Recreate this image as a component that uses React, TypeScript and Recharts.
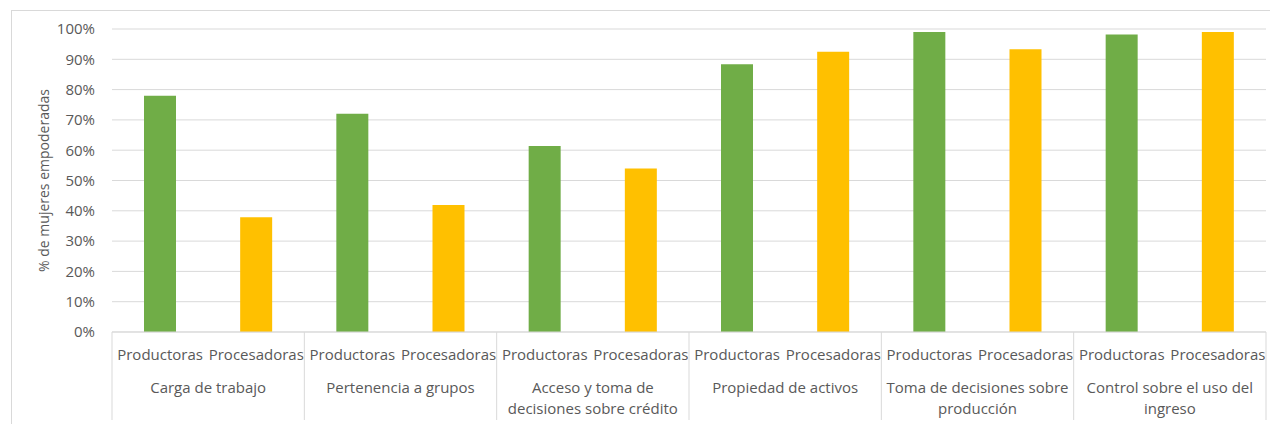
import React from "react";
import { Bar, BarChart, CartesianGrid, Cell, XAxis, YAxis } from "recharts";

const groups = [
	["Carga de trabajo"],
	["Pertenencia a grupos"],
	["Acceso y toma de", "decisiones sobre crédito"],
	["Propiedad de activos"],
	["Toma de decisiones sobre", "producción"],
	["Control sobre el uso del", "ingreso"],
];
const subLabels = ["Productoras", "Procesadoras"];
const productoras = [0.78, 0.72, 0.614, 0.884, 0.99, 0.982];
const procesadoras = [0.379, 0.419, 0.54, 0.925, 0.933, 0.99];
const yTicks = [0, 0.1, 0.2, 0.3, 0.4, 0.5, 0.6, 0.7, 0.8, 0.9, 1];
const colors = ["#70AD47", "#FFC000"];

const data = groups.flatMap((g, i) => [
	{ sub: subLabels[0], group: g, value: productoras[i], color: colors[0] },
	{ sub: subLabels[1], group: g, value: procesadoras[i], color: colors[1] },
]);

const FONT = "'Open Sans', sans-serif";
const TEXT = "#595959";
const LINE = "#d9d9d9";

const XTick = (props: any) => {
	const { x, y, payload, index } = props;
	const half = payload?.offset ?? (1266 - 112) / 24;
	const idx = index ?? payload?.index ?? 0;
	const item = data[idx];
	const isFirst = idx % 2 === 0;
	const isLast = idx === data.length - 1;
	return (
		<g>
			<text x={x} y={y + 28} textAnchor="middle" fill={TEXT} fontFamily={FONT} fontSize={15}>
				{payload.value}
			</text>
			{isFirst && (
				<>
					<line x1={x - half} x2={x - half} y1={y} y2={y + 88} stroke={LINE} />
					<text x={x + half} y={y + 61} textAnchor="middle" fill={TEXT} fontFamily={FONT} fontSize={15}>
						{item.group.map((ln: string, k: number) => (
							<tspan key={k} x={x + half} dy={k === 0 ? 0 : 21}>
								{ln}
							</tspan>
						))}
					</text>
				</>
			)}
			{isLast && <line x1={x + half} x2={x + half} y1={y} y2={y + 88} stroke={LINE} />}
		</g>
	);
};

const YLabel = (props: any) => {
	const vb = props.viewBox || { y: 29, height: 303 };
	const cy = vb.y + vb.height / 2;
	return (
		<text
			x={43}
			y={cy}
			transform={`rotate(-90, 43, ${cy})`}
			textAnchor="middle"
			dominantBaseline="central"
			fill={TEXT}
			fontFamily={FONT}
			fontSize={14}
		>
			% de mujeres empoderadas
		</text>
	);
};

const App: React.FC = () => {
	return (
		<div style={{ position: "absolute", left: 0, top: 0, width: 1270, height: 424, overflow: "hidden", background: "#fff" }}>
			<div
				style={{
					position: "absolute",
					left: 11,
					top: 10,
					width: 1300,
					height: 500,
					border: `1px solid ${LINE}`,
				}}
			/>
			<div style={{ position: "absolute", left: 0, top: 0 }}>
				<BarChart width={1270} height={424} data={data} margin={{ top: 29, right: 4, bottom: 0, left: 0 }}>
					<CartesianGrid vertical={false} stroke={LINE} />
					<XAxis
						dataKey="sub"
						interval={0}
						height={92}
						tickLine={false}
						tickSize={0}
						tickMargin={0}
						axisLine={{ stroke: LINE }}
						tick={<XTick />}
					/>
					<YAxis
						width={112}
						domain={[0, 1]}
						ticks={yTicks}
						tickFormatter={(v: number) => `${Math.round(v * 100)}%`}
						axisLine={false}
						tickLine={false}
						tickSize={0}
						tickMargin={17}
						tick={{ fill: TEXT, fontFamily: FONT, fontSize: 15 }}
						label={<YLabel />}
					/>
					<Bar dataKey="value" barSize={32} isAnimationActive={false}>
						{data.map((d, i) => (
							<Cell key={`cell-${i}`} fill={d.color} />
						))}
					</Bar>
				</BarChart>
			</div>
		</div>
	);
};

export default App;
